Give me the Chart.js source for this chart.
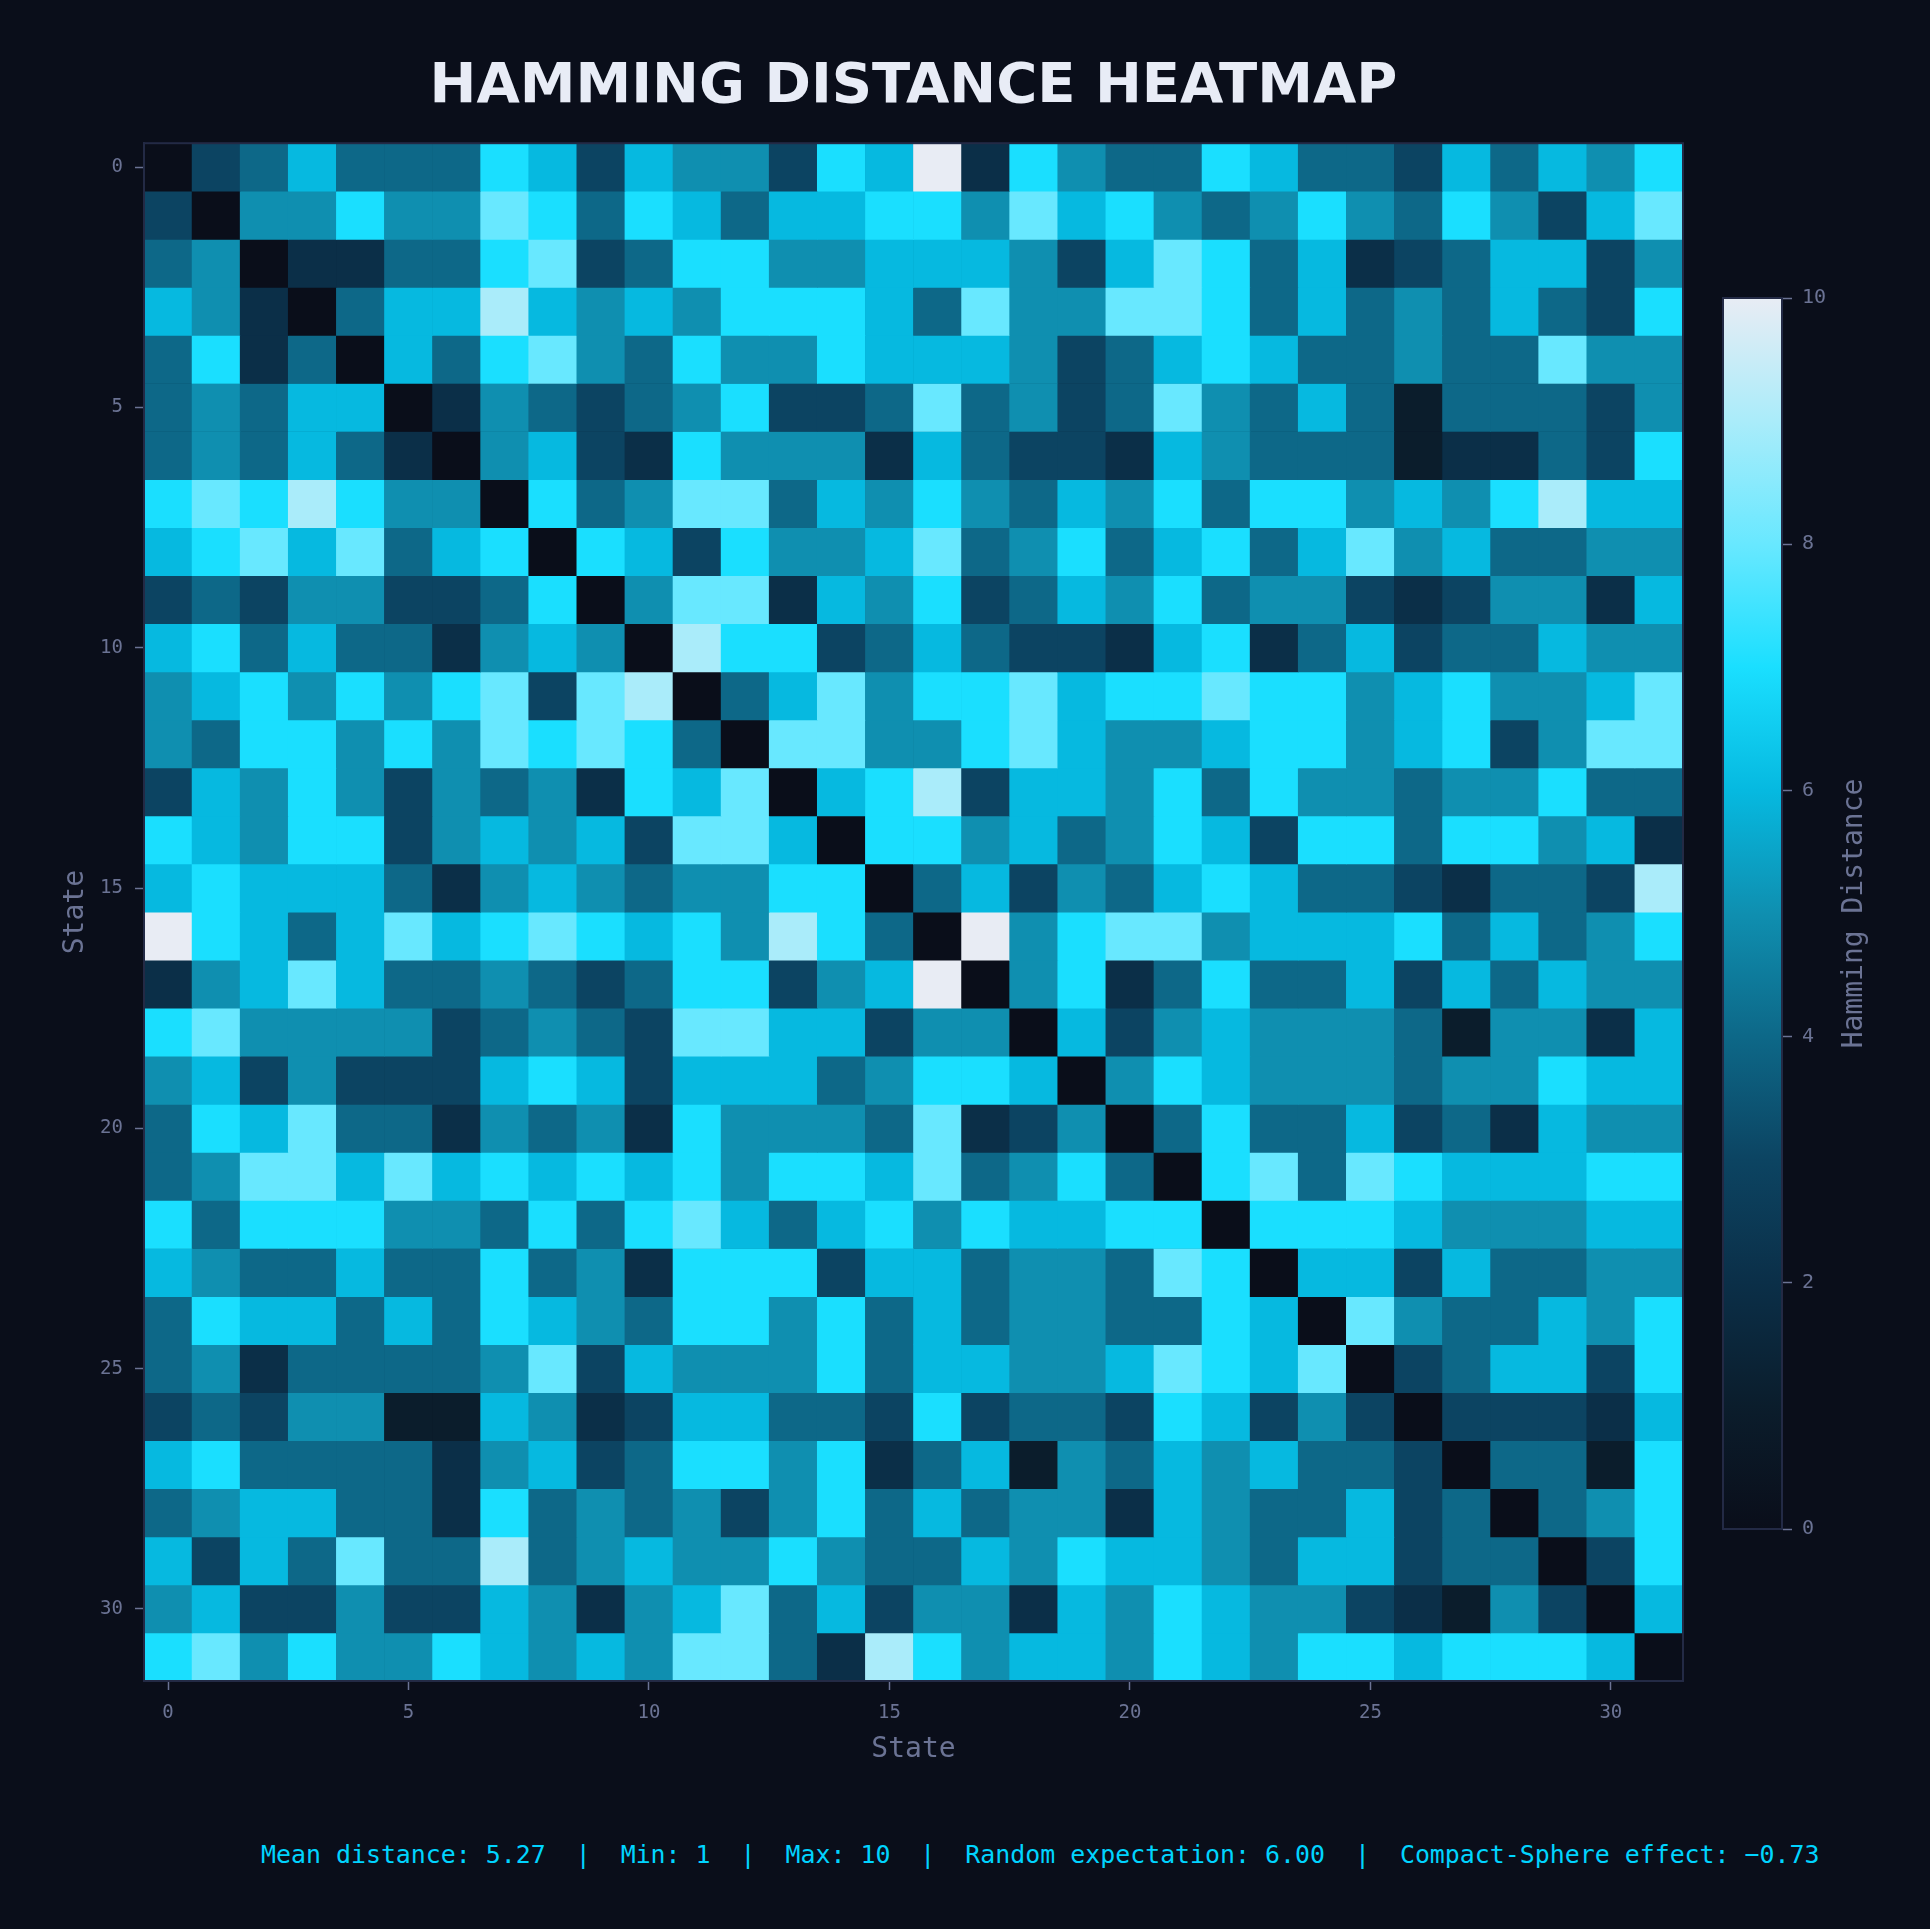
<!DOCTYPE html>
<html>
<head>
<meta charset="utf-8">
<title>Hamming Distance Heatmap</title>
<script src="https://cdn.jsdelivr.net/npm/chart.js@4.4.1/dist/chart.umd.min.js"></script>
<style>
    html, body { margin: 0; padding: 0; background: #0a0e1a; }
    body { width: 1930px; height: 1929px; position: relative; overflow: hidden; }
    #mainWrap { position: absolute; left: 0; top: 0; width: 1827px; height: 1780px; }
    #barWrap { position: absolute; left: 1700px; top: 270px; width: 230px; height: 1290px; }
    #footer {
        position: absolute; left: 261px; top: 1840px;
        font: 24.9px "DejaVu Sans Mono", monospace; line-height: 30px;
        color: #00d4ff; white-space: pre;
    }
</style>
</head>
<body>
<div id="mainWrap"><canvas id="heatmap"></canvas></div>
<div id="barWrap"><canvas id="colorbar"></canvas></div>
<div id="footer">Mean distance: 5.27  |  Min: 1  |  Max: 10  |  Random expectation: 6.00  |  Compact-Sphere effect: −0.73</div>

<script>
// state labels (rows and columns)
const states = ['0','1','2','3','4','5','6','7','8','9','10','11','12','13','14','15',
                '16','17','18','19','20','21','22','23','24','25','26','27','28','29','30','31'];
const xTicks = [0, 5, 10, 15, 20, 25, 30];
const yTicks = [0, 5, 10, 15, 20, 25, 30];
const cbTicks = [0, 2, 4, 6, 8, 10];

// pairwise hamming distances, one row per state
const hamming = [
    [0,3,4,6,4,4,4,7,6,3,6,5,5,3,7,6,10,2,7,5,4,4,7,6,4,4,3,6,4,6,5,7],
    [3,0,5,5,7,5,5,8,7,4,7,6,4,6,6,7,7,5,8,6,7,5,4,5,7,5,4,7,5,3,6,8],
    [4,5,0,2,2,4,4,7,8,3,4,7,7,5,5,6,6,6,5,3,6,8,7,4,6,2,3,4,6,6,3,5],
    [6,5,2,0,4,6,6,9,6,5,6,5,7,7,7,6,4,8,5,5,8,8,7,4,6,4,5,4,6,4,3,7],
    [4,7,2,4,0,6,4,7,8,5,4,7,5,5,7,6,6,6,5,3,4,6,7,6,4,4,5,4,4,8,5,5],
    [4,5,4,6,6,0,2,5,4,3,4,5,7,3,3,4,8,4,5,3,4,8,5,4,6,4,1,4,4,4,3,5],
    [4,5,4,6,4,2,0,5,6,3,2,7,5,5,5,2,6,4,3,3,2,6,5,4,4,4,1,2,2,4,3,7],
    [7,8,7,9,7,5,5,0,7,4,5,8,8,4,6,5,7,5,4,6,5,7,4,7,7,5,6,5,7,9,6,6],
    [6,7,8,6,8,4,6,7,0,7,6,3,7,5,5,6,8,4,5,7,4,6,7,4,6,8,5,6,4,4,5,5],
    [3,4,3,5,5,3,3,4,7,0,5,8,8,2,6,5,7,3,4,6,5,7,4,5,5,3,2,3,5,5,2,6],
    [6,7,4,6,4,4,2,5,6,5,0,9,7,7,3,4,6,4,3,3,2,6,7,2,4,6,3,4,4,6,5,5],
    [5,6,7,5,7,5,7,8,3,8,9,0,4,6,8,5,7,7,8,6,7,7,8,7,7,5,6,7,5,5,6,8],
    [5,4,7,7,5,7,5,8,7,8,7,4,0,8,8,5,5,7,8,6,5,5,6,7,7,5,6,7,3,5,8,8],
    [3,6,5,7,5,3,5,4,5,2,7,6,8,0,6,7,9,3,6,6,5,7,4,7,5,5,4,5,5,7,4,4],
    [7,6,5,7,7,3,5,6,5,6,3,8,8,6,0,7,7,5,6,4,5,7,6,3,7,7,4,7,7,5,6,2],
    [6,7,6,6,6,4,2,5,6,5,4,5,5,7,7,0,4,6,3,5,4,6,7,6,4,4,3,2,4,4,3,9],
    [10,7,6,4,6,8,6,7,8,7,6,7,5,9,7,4,0,10,5,7,8,8,5,6,6,6,7,4,6,4,5,7],
    [2,5,6,8,6,4,4,5,4,3,4,7,7,3,5,6,10,0,5,7,2,4,7,4,4,6,3,6,4,6,5,5],
    [7,8,5,5,5,5,3,4,5,4,3,8,8,6,6,3,5,5,0,6,3,5,6,5,5,5,4,1,5,5,2,6],
    [5,6,3,5,3,3,3,6,7,6,3,6,6,6,4,5,7,7,6,0,5,7,6,5,5,5,4,5,5,7,6,6],
    [4,7,6,8,4,4,2,5,4,5,2,7,5,5,5,4,8,2,3,5,0,4,7,4,4,6,3,4,2,6,5,5],
    [4,5,8,8,6,8,6,7,6,7,6,7,5,7,7,6,8,4,5,7,4,0,7,8,4,8,7,6,6,6,7,7],
    [7,4,7,7,7,5,5,4,7,4,7,8,6,4,6,7,5,7,6,6,7,7,0,7,7,7,6,5,5,5,6,6],
    [6,5,4,4,6,4,4,7,4,5,2,7,7,7,3,6,6,4,5,5,4,8,7,0,6,6,3,6,4,4,5,5],
    [4,7,6,6,4,6,4,7,6,5,4,7,7,5,7,4,6,4,5,5,4,4,7,6,0,8,5,4,4,6,5,7],
    [4,5,2,4,4,4,4,5,8,3,6,5,5,5,7,4,6,6,5,5,6,8,7,6,8,0,3,4,6,6,3,7],
    [3,4,3,5,5,1,1,6,5,2,3,6,6,4,4,3,7,3,4,4,3,7,6,3,5,3,0,3,3,3,2,6],
    [6,7,4,4,4,4,2,5,6,3,4,7,7,5,7,2,4,6,1,5,4,6,5,6,4,4,3,0,4,4,1,7],
    [4,5,6,6,4,4,2,7,4,5,4,5,3,5,7,4,6,4,5,5,2,6,5,4,4,6,3,4,0,4,5,7],
    [6,3,6,4,8,4,4,9,4,5,6,5,5,7,5,4,4,6,5,7,6,6,5,4,6,6,3,4,4,0,3,7],
    [5,6,3,3,5,3,3,6,5,2,5,6,8,4,6,3,5,5,2,6,5,7,6,5,5,3,2,1,5,3,0,6],
    [7,8,5,7,5,5,7,6,5,6,5,8,8,4,2,9,7,5,6,6,5,7,6,5,7,7,6,7,7,7,6,0]
];

// colour for each distance 0..10
const levelColors = ['#0a0e1a', '#0b1d2c', '#0b2f48', '#0c4462', '#0d6888', '#0f8fb0',
                     '#06b9e0', '#1adfff', '#68e8ff', '#aaecfa', '#e8ecf4'];

const mono = '"DejaVu Sans Mono", monospace';
const muted = '#6b7394';
const frameColor = '#232a45';

const framePlugin = {
    id: 'frame',
    afterDraw(chart) {
        const { ctx, chartArea: a } = chart;
        ctx.save();
        ctx.strokeStyle = frameColor;
        ctx.lineWidth = 2;
        ctx.strokeRect(a.left, a.top, a.right - a.left, a.bottom - a.top);
        ctx.restore();
    }
};

// one floating-bar dataset per row, each bar spans one cell
const datasets = hamming.map((row, r) => ({
    label: 'State ' + states[r],
    data: row.map(() => [r - 0.5, r + 0.5]),
    backgroundColor: row.map(v => levelColors[v]),
    grouped: false,
    barPercentage: 1,
    categoryPercentage: 1,
    borderWidth: 0
}));

new Chart(document.getElementById('heatmap'), {
    type: 'bar',
    data: { labels: states, datasets: datasets },
    options: {
        responsive: true,
        maintainAspectRatio: false,
        animation: false,
        events: [],
        layout: { padding: 0 },
        plugins: {
            legend: { display: false },
            tooltip: { enabled: false },
            title: {
                display: true,
                text: 'HAMMING DISTANCE HEATMAP',
                color: '#e8ecf6',
                font: { family: '"DejaVu Sans", sans-serif', size: 56, weight: 'bold', lineHeight: 1.2 },
                padding: { top: 54, bottom: 22 }
            }
        },
        scales: {
            x: {
                type: 'category',
                offset: true,
                afterBuildTicks: s => { s.ticks = xTicks.map(v => ({ value: v })); },
                afterFit: s => { s.height = 99; },
                ticks: { color: muted, font: { family: mono, size: 19 }, padding: 12, maxRotation: 0, autoSkip: false },
                grid: { offset: false, drawOnChartArea: false, color: muted, tickLength: 9, tickWidth: 1.5 },
                border: { color: frameColor, width: 2 },
                title: { display: true, text: 'State', color: muted, font: { family: mono, size: 28 }, padding: { bottom: 13 } }
            },
            y: {
                type: 'linear',
                min: -0.5,
                max: 31.5,
                reverse: true,
                afterBuildTicks: s => { s.ticks = yTicks.map(v => ({ value: v })); },
                afterFit: s => { s.width = 144; },
                ticks: { color: muted, font: { family: mono, size: 19 }, padding: 12 },
                grid: { drawOnChartArea: false, color: muted, tickLength: 9, tickWidth: 1.5 },
                border: { color: frameColor, width: 2 },
                title: { display: true, text: 'State', color: muted, font: { family: mono, size: 28 }, padding: { top: 59 } }
            },
            // empty right-hand gutter, keeps the title centred over the cells
            gutter: {
                type: 'linear',
                position: 'right',
                afterFit: s => { s.width = 144; },
                ticks: { display: false },
                grid: { display: false },
                border: { display: false }
            }
        }
    },
    plugins: [framePlugin]
});

// colour bar label, rotated to read upward
const cbLabelPlugin = {
    id: 'cbLabel',
    afterDraw(chart) {
        const { ctx, chartArea: a } = chart;
        ctx.save();
        ctx.translate(a.right + 73, (a.top + a.bottom) / 2);
        ctx.rotate(-Math.PI / 2);
        ctx.font = '28px ' + mono;
        ctx.fillStyle = muted;
        ctx.textAlign = 'center';
        ctx.textBaseline = 'middle';
        ctx.fillText('Hamming Distance', 0, 0);
        ctx.restore();
    }
};

new Chart(document.getElementById('colorbar'), {
    type: 'bar',
    data: {
        labels: [''],
        datasets: [{
            data: [[cbTicks[0], cbTicks[cbTicks.length - 1]]],
            backgroundColor: ctx => {
                const { ctx: c, chartArea } = ctx.chart;
                if (!chartArea) return levelColors[5];
                const g = c.createLinearGradient(0, chartArea.bottom, 0, chartArea.top);
                levelColors.forEach((col, i) => g.addColorStop(i / (levelColors.length - 1), col));
                return g;
            },
            barPercentage: 1,
            categoryPercentage: 1,
            borderWidth: 0
        }]
    },
    options: {
        responsive: true,
        maintainAspectRatio: false,
        animation: false,
        events: [],
        layout: { padding: { left: 23, right: 0, top: 28, bottom: 31 } },
        plugins: { legend: { display: false }, tooltip: { enabled: false } },
        scales: {
            x: { display: false },
            y: {
                position: 'right',
                min: 0,
                max: 10,
                afterBuildTicks: s => { s.ticks = cbTicks.map(v => ({ value: v })); },
                afterFit: s => { s.width = 148; },
                ticks: { color: muted, font: { family: mono, size: 20 }, padding: 10 },
                grid: { drawOnChartArea: false, color: muted, tickLength: 10, tickWidth: 1.5 },
                border: { color: frameColor, width: 2 }
            }
        }
    },
    plugins: [framePlugin, cbLabelPlugin]
});
</script>
</body>
</html>
